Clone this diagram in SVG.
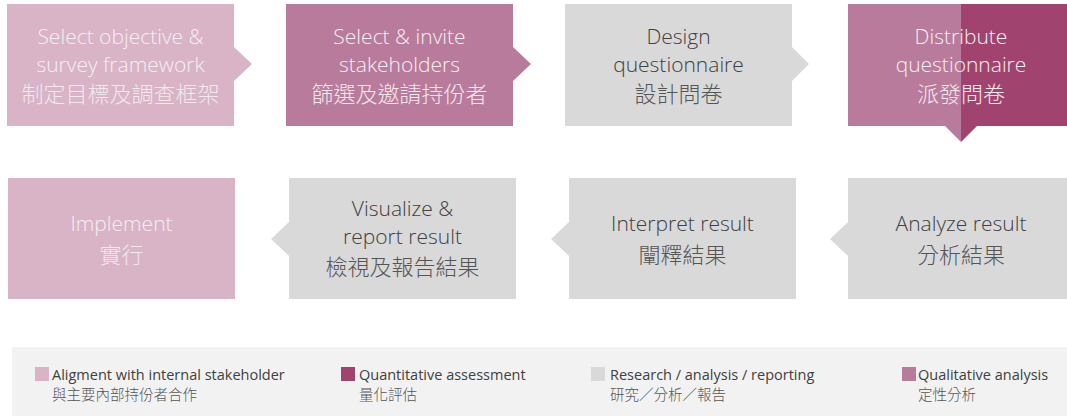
<svg xmlns="http://www.w3.org/2000/svg" width="1067" height="416" viewBox="0 0 1067 416">
<style>
  .t { font-family: "Open Sans", "Noto Sans CJK TC", sans-serif; font-weight: 300; font-size: 21px; text-anchor: middle; }
  .zh { font-family: "Noto Sans CJK TC Light", "Noto Sans CJK TC", "Open Sans", sans-serif; font-weight: 300; font-size: 22px; text-anchor: middle; }
  .lt { fill: #f6eff3; }
  .zh.lt { fill: #f3e8ee; }
  .dk { fill: #404040; }
  .zh.dk { fill: #555555; }
  .light { fill: #d8b4c6; }
  .mid { fill: #b97b9b; }
  .dark { fill: #a0446f; }
  .gray { fill: #d9d9d9; }
  .lg { font-family: "Open Sans", "Noto Sans CJK TC", sans-serif; font-size: 14.5px; fill: #404040; }
  .lgz { font-family: "Noto Sans CJK TC Light", "Noto Sans CJK TC", "Open Sans", sans-serif; font-weight: 300; font-size: 14.5px; fill: #555555; }
</style>
<rect width="1067" height="416" fill="#ffffff"/>

<g id="connectors">
  <polygon class="light" points="234,47 252,64 234,81"/>
  <polygon class="mid" points="513,47 531,64 513,81"/>
  <polygon class="gray" points="792,47 809,64 792,81"/>
  <polygon class="mid" points="945,126 961,126 961,142"/>
  <polygon class="dark" points="961,126 977,126 961,142"/>
  <polygon class="gray" points="848,222 830,239 848,256"/>
  <polygon class="gray" points="569,222 551,239 569,256"/>
  <polygon class="gray" points="289,222 271,239 289,256"/>
</g>

<g id="node-select-objective">
  <rect class="light" x="7" y="4" width="227" height="122"/>
  <text class="t lt" x="120.5" y="44">Select objective &amp;</text>
  <text class="t lt" x="120.5" y="72">survey framework</text>
  <text class="zh lt" x="120.5" y="102">制定目標及調查框架</text>
</g>

<g id="node-select-invite">
  <rect class="mid" x="286" y="4" width="227" height="122"/>
  <text class="t lt" x="399.5" y="44">Select &amp; invite</text>
  <text class="t lt" x="399.5" y="72">stakeholders</text>
  <text class="zh lt" x="399.5" y="102">篩選及邀請持份者</text>
</g>

<g id="node-design">
  <rect class="gray" x="565" y="4" width="227" height="122"/>
  <text class="t dk" x="678.5" y="44">Design</text>
  <text class="t dk" x="678.5" y="72">questionnaire</text>
  <text class="zh dk" x="678.5" y="102">設計問卷</text>
</g>

<g id="node-distribute">
  <rect class="mid" x="848" y="4" width="113" height="122"/>
  <rect class="dark" x="961" y="4" width="106" height="122"/>
  <text class="t lt" x="961" y="44">Distribute</text>
  <text class="t lt" x="961" y="72">questionnaire</text>
  <text class="zh lt" x="961" y="102">派發問卷</text>
</g>

<g id="node-analyze">
  <rect class="gray" x="848" y="178" width="219" height="121"/>
  <text class="t dk" x="961" y="231">Analyze result</text>
  <text class="zh dk" x="961" y="263">分析結果</text>
</g>

<g id="node-interpret">
  <rect class="gray" x="569" y="178" width="227" height="121"/>
  <text class="t dk" x="682.5" y="231">Interpret result</text>
  <text class="zh dk" x="682.5" y="263">闡釋結果</text>
</g>

<g id="node-visualize">
  <rect class="gray" x="289" y="178" width="227" height="121"/>
  <text class="t dk" x="402.5" y="216">Visualize &amp;</text>
  <text class="t dk" x="402.5" y="244">report result</text>
  <text class="zh dk" x="402.5" y="275">檢視及報告結果</text>
</g>

<g id="node-implement">
  <rect class="light" x="8" y="178" width="227" height="121"/>
  <text class="t lt" x="121.5" y="231">Implement</text>
  <text class="zh lt" x="121.5" y="263">實行</text>
</g>

<g id="legend">
  <rect x="12" y="347" width="1055" height="69" fill="#f2f2f2"/>
  <rect class="light" x="35" y="367" width="14" height="14"/>
  <text class="lg" x="52" y="380">Aligment with internal stakeholder</text>
  <text class="lgz" x="52" y="400">與主要內部持份者合作</text>
  <rect class="dark" x="341" y="367" width="14" height="14"/>
  <text class="lg" x="359" y="380">Quantitative assessment</text>
  <text class="lgz" x="359" y="400">量化評估</text>
  <rect class="gray" x="591" y="367" width="14" height="14"/>
  <text class="lg" x="610" y="380">Research / analysis / reporting</text>
  <text class="lgz" x="610" y="400">研究／分析／報告</text>
  <rect class="mid" x="902" y="367" width="14" height="14"/>
  <text class="lg" x="918" y="380">Qualitative analysis</text>
  <text class="lgz" x="918" y="400">定性分析</text>
</g>
</svg>
